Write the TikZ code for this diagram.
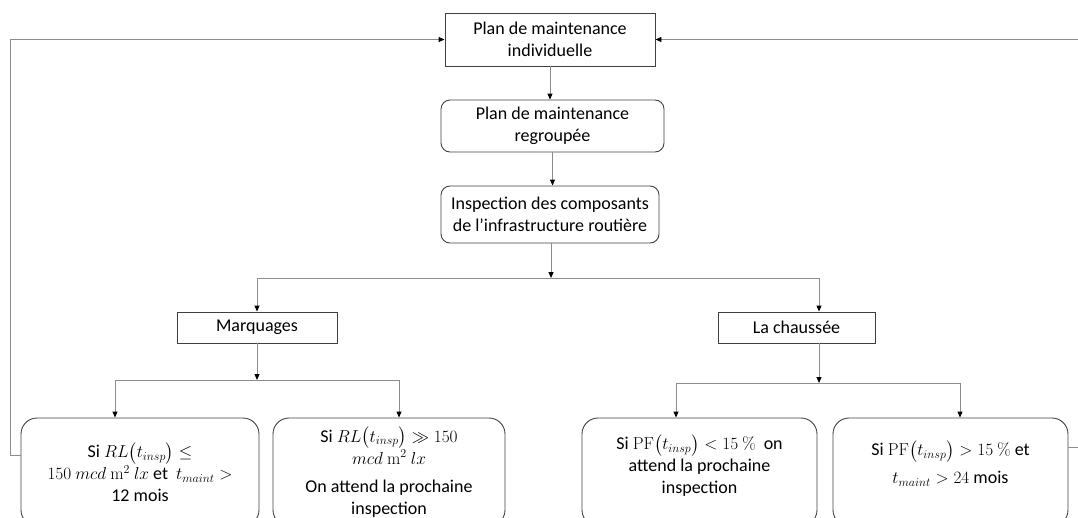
\documentclass[tikz,border=0pt]{standalone}
\usepackage{amsmath}
\usepackage{amssymb}
\usepackage[no-math]{fontspec}
\setmainfont{Carlito}
\usetikzlibrary{arrows.meta,positioning}

\begin{document}
\begin{tikzpicture}[x=1pt, y=-1pt, >={Triangle[length=6pt, width=5pt, color=black]},
  every node/.style={font=\fontsize{18}{22}\selectfont},
  box/.style={draw=black!75, line width=0.9pt, align=center, inner sep=2pt},
  rbox/.style={box, rounded corners=9pt},
  cbox/.style={box, rounded corners=16pt, minimum height=108pt},
  link/.style={->, draw=black!45, line width=0.9pt},
  wire/.style={draw=black!45, line width=0.9pt}]
\useasboundingbox (0,0) rectangle (1078,517);
\clip (0,0) rectangle (1078,517);
\node[box, minimum width=210pt, minimum height=53pt] (ind) at (550,39.5) {Plan de maintenance\\individuelle};
\node[rbox, minimum width=223pt, minimum height=52pt] (reg) at (552.5,126) {Plan de maintenance\\regroupée};
\node[rbox, minimum width=218pt, minimum height=57pt] (insp) at (550,214.5) {Inspection des composants\\de l’infrastructure routière};
\node[box, minimum width=160pt, minimum height=31pt] (marq) at (257,327.5) {Marquages};
\node[box, minimum width=157pt, minimum height=31pt] (chau) at (796.5,327.5) {La chaussée};
\node[cbox, minimum width=238pt] (ra) at (140,472) {Si $RL\bigl(t_{insp}\bigr)\leq$\\$150\ mcd\ \mathrm{m}^2\ lx$ et\ \ $t_{maint}>$\\12 mois};
\node[cbox, minimum width=232pt] (rb) at (389,472) {Si $RL\bigl(t_{insp}\bigr)\gg 150$\\$mcd\ \mathrm{m}^2\ lx$\\[6pt]On attend la prochaine\\inspection};
\node[cbox, minimum width=235pt] (rc) at (699.5,472) {Si $\mathrm{PF}\bigl(t_{insp}\bigr)<15\ \%$\ \ on\\attend la prochaine\\inspection\\[-6pt]\mbox{}};
\node[cbox, minimum width=235pt] (rd) at (950.5,472) {Si $\mathrm{PF}\bigl(t_{insp}\bigr)>15\ \%$ et\\[6pt]$t_{maint}>24$ mois\\[-2pt]\mbox{}};
\draw[link] (ind.south) -- (ind.south |- reg.north);
\draw[link] (reg.south) -- (reg.south |- insp.north);
\coordinate (s1) at (551,278);
\draw[link] (insp.south -| s1) -- (s1);
\draw[link] (s1) -| (marq.north);
\draw[link] (s1) -| ([xshift=22.5pt]chau.north);
\coordinate (s2) at (257,380);
\coordinate (s2a) at (115,380);
\coordinate (s2b) at (399,380);
\draw[link] (marq.south) -- (s2);
\draw[wire] (s2a) -- (s2b);
\draw[link] (s2a) -- (s2a |- ra.north);
\draw[link] (s2b) -- (s2b |- rb.north);
\coordinate (s3) at (819,383);
\coordinate (s3a) at (676,383);
\coordinate (s3b) at (960,383);
\draw[link] (chau.south -| s3) -- (s3);
\draw[wire] (s3a) -- (s3b);
\draw[link] (s3a) -- (s3a |- rc.north);
\draw[link] (s3b) -- (s3b |- rd.north);
\coordinate (fl) at (10,455);
\draw[link] (ra.west |- fl) -- (fl) |- (ind.west);
\coordinate (fr) at (1078,447);
\coordinate (ft) at (1078,39.5);
\draw[wire] (rd.east |- fr) -- (fr);
\draw[link] (ft) -- (ind.east);
\end{tikzpicture}
\end{document}
